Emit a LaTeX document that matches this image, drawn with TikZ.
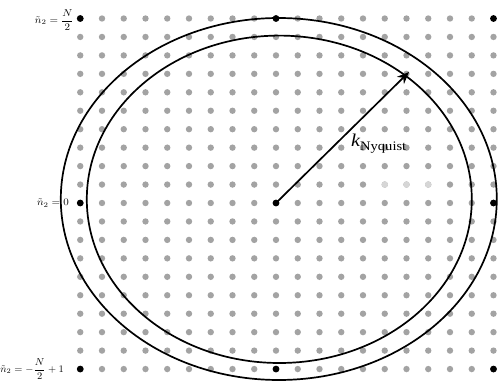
\documentclass[tikz,border=0pt]{standalone}
\usepackage{graphicx}
\usepackage{amsmath}
\usepackage{fontspec}
\setmainfont{Liberation Serif}
\usetikzlibrary{arrows.meta}
\definecolor{dotgray}{HTML}{A3A3A3}
\definecolor{dotlight}{HTML}{D6D6D6}
\begin{document}
\begin{tikzpicture}[x=1pt,y=-1pt,
  gdot/.style={fill=dotgray},
  ldot/.style={fill=dotlight},
  bdot/.style={fill=black},
  ring/.style={draw=black,line width=1.7pt},
  vec/.style={draw=black,line width=1.7pt,-{Stealth[length=12pt,width=10pt]}},
  lab/.style={inner sep=0pt,font=\fontsize{10}{11}\selectfont}]
\useasboundingbox (0,0) rectangle (499,383);
% grid of sample points
\foreach \i in {-9,...,10}{
  \foreach \j in {-9,...,10}{
    \fill[gdot] ({276+21.75*\i},{203-18.45*\j}) circle[radius=3.2pt];
  }
}
% lighter dots
\foreach \i in {5,6,7}{
  \fill[ldot] ({276+21.75*\i},{203-18.45}) circle[radius=3.2pt];
}
% black dots
\foreach \i in {-9,0,10}{
  \foreach \j in {-9,0,10}{
    \fill[bdot] ({276+21.75*\i},{203-18.45*\j}) circle[radius=3.4pt];
  }
}
% ellipses
\draw[ring] (278.8,199) ellipse [x radius=218pt, y radius=181pt];
\draw[ring] (279.3,199.3) ellipse [x radius=192.5pt, y radius=163.7pt];
% radius vector
\coordinate (c) at (276,203);
\coordinate (tip) at (409,72);
\draw[vec] (c) -- (tip);
\node[anchor=base west,inner sep=0pt] (kn) at (351,146)
  {\scalebox{1.12}[1]{{\fontsize{18}{18}\selectfont\itshape k}\raisebox{-4pt}{\fontsize{13}{13}\selectfont Nyquist}}};
% row labels
\node[lab,anchor=east] (ltop) at (74,20) {\scalebox{1.1}[1]{$\tilde{n}_2=\dfrac{N}{2}$}};
\node[lab,anchor=east] (lmid) at (69,203) {\scalebox{1.1}[1]{$\tilde{n}_2=0$}};
\node[lab,anchor=east] (lbot) at (64,369) {\scalebox{1.05}[1]{$\tilde{n}_2=-\dfrac{N}{2}+1$}};
\end{tikzpicture}
\end{document}
